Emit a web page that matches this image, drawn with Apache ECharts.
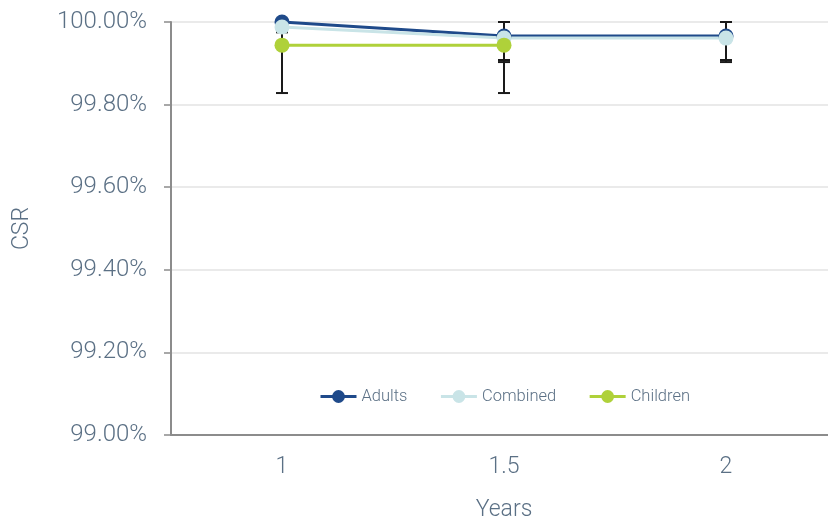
<!DOCTYPE html>
<html><head><meta charset="utf-8">
<script src="https://cdn.jsdelivr.net/npm/echarts@6/dist/echarts.min.js"></script>
<style>html,body{margin:0;padding:0;background:#fff}#c{width:828px;height:520px}</style>
</head><body><div id="c"></div>
<script>
const categories = ['1', '1.5', '2'];
const yTicks = [99.0, 99.2, 99.4, 99.6, 99.8, 100.0];
const adults = [100.00, 99.966, 99.966];
const combined = [99.988, 99.961, 99.961];
const children = [99.944, 99.944, null];
const adultsLow = [100.00, 99.908, 99.908];
const adultsHigh = [100.00, 100.00, 100.00];
const combinedLow = [99.975, 99.903, 99.903];
const combinedHigh = [100.00, 100.00, 100.00];
const childrenLow = [99.828, 99.828, null];
const childrenHigh = [100.00, 100.00, null];

const FONT = 'Roboto, "Liberation Sans", sans-serif';
const TXT = '#5b7085';

function errData(low, high) {
  const out = [];
  low.forEach((l, i) => { if (l != null && high[i] != null) out.push([i, l, high[i]]); });
  return out;
}
const errAll = [].concat(errData(adultsLow, adultsHigh), errData(combinedLow, combinedHigh), errData(childrenLow, childrenHigh));

function renderErr(params, api) {
  const x = api.value(0);
  const lo = api.coord([x, api.value(1)]);
  const hi = api.coord([x, api.value(2)]);
  const hw = 6;
  const style = { stroke: '#1a1a1a', lineWidth: 2 };
  return { type: 'group', children: [
    { type: 'line', shape: { x1: lo[0], y1: lo[1], x2: hi[0], y2: hi[1] }, style },
    { type: 'line', shape: { x1: lo[0] - hw, y1: lo[1], x2: lo[0] + hw, y2: lo[1] }, style },
    { type: 'line', shape: { x1: hi[0] - hw, y1: hi[1], x2: hi[0] + hw, y2: hi[1] }, style }
  ]};
}

const chart = echarts.init(document.getElementById('c'), null, { renderer: 'canvas' });
function lineSeries(name, data, color) {
  return { name, type: 'line', data, color, symbol: 'circle', symbolSize: 15,
    lineStyle: { width: 3, color }, itemStyle: { color }, z: 3, animation: false, connectNulls: false };
}
chart.setOption({
  animation: false,
  textStyle: { fontFamily: FONT },
  grid: { left: 171, top: 22, width: 666, height: 413, containLabel: false, outerBoundsMode: 'none' },
  legend: {
    data: ['Adults', 'Combined', 'Children'],
    top: 383, left: 314, itemWidth: 36, itemHeight: 16, itemGap: 32,
    lineStyle: { width: 3 },
    textStyle: { color: TXT, fontSize: 16.5, fontFamily: FONT, fontWeight: 300 }
  },
  xAxis: {
    type: 'category', data: categories, boundaryGap: true,
    name: 'Years', nameLocation: 'middle', nameGap: 64,
    nameTextStyle: { color: TXT, fontSize: 23, fontFamily: FONT, fontWeight: 300 },
    axisLine: { lineStyle: { color: '#8c8c8c', width: 2 } },
    axisTick: { show: false },
    axisLabel: { color: TXT, fontSize: 23, margin: 21, fontFamily: FONT, fontWeight: 300 },
    splitLine: { show: false }
  },
  yAxis: {
    type: 'value', min: 99.0, max: 100.0, interval: 0.2,
    name: 'CSR', nameLocation: 'middle', nameGap: 137,
    nameTextStyle: { color: TXT, fontSize: 23, fontFamily: FONT, fontWeight: 300 },
    axisLine: { show: true, lineStyle: { color: '#8c8c8c', width: 2 } },
    axisTick: { show: true, length: 7, lineStyle: { color: '#8c8c8c', width: 1.5 } },
    axisLabel: { color: TXT, fontSize: 24, margin: 24, fontFamily: FONT, fontWeight: 300,
      formatter: v => v.toFixed(2) + '%' },
    splitLine: { show: true, lineStyle: { color: '#e3e3e3', width: 1.5 } }
  },
  series: [
    { type: 'custom', name: 'err', renderItem: renderErr, data: errAll, z: 1, silent: true,
      encode: { x: 0, y: [1, 2] } },
    lineSeries('Adults', adults, '#1f4a8a'),
    lineSeries('Combined', combined, '#c9e4e7'),
    lineSeries('Children', children, '#afd13a')
  ]
});
</script></body></html>
